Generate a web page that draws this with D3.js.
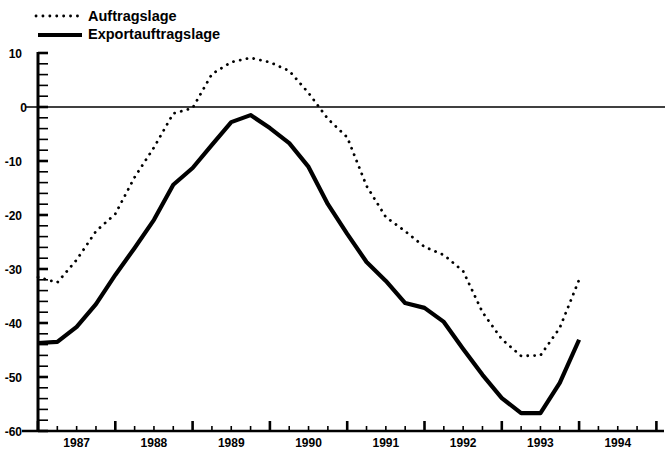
<!DOCTYPE html>
<html>
<head>
<meta charset="utf-8">
<script src="https://cdn.jsdelivr.net/npm/d3@7"></script>
<style>
  html, body { margin: 0; padding: 0; background: #fff; }
  svg { display: block; }
  text { font-family: "Liberation Sans", Arial, sans-serif; font-weight: bold; fill: #000; }
</style>
</head>
<body>
<svg id="chart" width="665" height="453"></svg>
<script>
// ---- data (quarterly, 1987 Q1 .. 1994 Q1) ----
const startYear = 1987;
const quarterIndex = d3.range(0, 29);            // 0 = start of 1987, step = one quarter
const auftragslage = [-31.5, -32.5, -28.3, -23, -19.8, -13, -7.5, -1.2, -0.2,
                      6.1, 8.3, 9.1, 8.3, 6.7, 2.6, -2.2, -5.6, -14.6, -20.4,
                      -23, -25.9, -27.4, -30.4, -38, -43, -46.1, -46, -40.9, -32];
const exportauftragslage = [-43.7, -43.5, -40.7, -36.5, -31.1, -26.1, -20.9, -14.4, -11.3,
                      -7.0, -2.8, -1.5, -3.9, -6.7, -11.1, -18, -23.5, -28.7, -32.2,
                      -36.3, -37.2, -39.8, -44.8, -49.6, -53.9, -56.7, -56.7, -51.1, -43.1];
const yearLabels = ["1987", "1988", "1989", "1990", "1991", "1992", "1993", "1994"];
const yTicks = [10, 0, -10, -20, -30, -40, -50, -60];
const legendNames = ["Auftragslage", "Exportauftragslage"];

const svg = d3.select("#chart");

const x = d3.scaleLinear().domain([1987, 1995]).range([38, 656.4]);
const y = d3.scaleLinear().domain([-60, 10]).range([431, 53]);

const t = i => startYear + i / 4;

// zero line
svg.append("line")
  .attr("x1", 26).attr("x2", 665)
  .attr("y1", y(0)).attr("y2", y(0))
  .attr("stroke", "#000").attr("stroke-width", 1.6);

// y axis ticks (inside, every 2 units)
const yMinor = d3.range(-60, 10.001, 2);
svg.append("g").selectAll("line").data(yMinor).join("line")
  .attr("x1", x(1987)).attr("x2", x(1987) + 10)
  .attr("y1", d => y(d)).attr("y2", d => y(d))
  .attr("stroke", "#000")
  .attr("stroke-width", d => d % 10 === 0 ? 2.6 : 1.6);

// x axis ticks (inside, quarters)
const xMinor = d3.range(0, 33).map(i => 1987 + i / 4);
svg.append("g").selectAll("line").data(xMinor).join("line")
  .attr("x1", d => x(d)).attr("x2", d => x(d))
  .attr("y1", y(-60)).attr("y2", (d, i) => y(-60) - (i % 4 === 0 ? 10 : 5))
  .attr("stroke", "#000")
  .attr("stroke-width", (d, i) => i % 4 === 0 ? 2.6 : 1.6);

// axis lines
svg.append("line")
  .attr("x1", x(1987)).attr("x2", x(1987))
  .attr("y1", y(10) - 1).attr("y2", y(-60) + 1)
  .attr("stroke", "#000").attr("stroke-width", 3);
svg.append("line")
  .attr("x1", 22).attr("x2", 664)
  .attr("y1", y(-60)).attr("y2", y(-60))
  .attr("stroke", "#000").attr("stroke-width", 2.6);

// y labels
svg.append("g").selectAll("text").data(yTicks).join("text")
  .attr("x", d => d === 0 ? 27 : 22)
  .attr("y", d => y(d) + 4.5)
  .attr("text-anchor", "end")
  .attr("font-size", 12)
  .text(d => d);

// x labels
svg.append("g").selectAll("text").data(yearLabels).join("text")
  .attr("x", d => x(+d + 0.5))
  .attr("y", 447)
  .attr("text-anchor", "middle")
  .attr("font-size", 12)
  .text(d => d);

// lines
const line = d3.line()
  .x(d => x(d[0]))
  .y(d => y(d[1]))
  .curve(d3.curveLinear);

svg.append("path")
  .datum(quarterIndex.map(i => [t(i), exportauftragslage[i]]))
  .attr("d", line)
  .attr("fill", "none")
  .attr("stroke", "#000")
  .attr("stroke-width", 4.2)
  .attr("stroke-linejoin", "round");

svg.append("path")
  .datum(quarterIndex.map(i => [t(i), auftragslage[i]]))
  .attr("d", line)
  .attr("fill", "none")
  .attr("stroke", "#000")
  .attr("stroke-width", 2.8)
  .attr("stroke-linecap", "round")
  .attr("stroke-dasharray", "0.1,6.8");

// legend
const lg = svg.append("g");
lg.append("line")
  .attr("x1", 36).attr("x2", 80).attr("y1", 16).attr("y2", 16)
  .attr("stroke", "#000").attr("stroke-width", 2.8)
  .attr("stroke-linecap", "round").attr("stroke-dasharray", "0.1,6.8");
lg.append("line")
  .attr("x1", 38).attr("x2", 82).attr("y1", 35).attr("y2", 35)
  .attr("stroke", "#000").attr("stroke-width", 4.2);
lg.selectAll("text").data(legendNames).join("text")
  .attr("x", 88)
  .attr("y", (d, i) => i === 0 ? 20.5 : 39)
  .attr("font-size", 14.5)
  .text(d => d);
</script>
</body>
</html>
